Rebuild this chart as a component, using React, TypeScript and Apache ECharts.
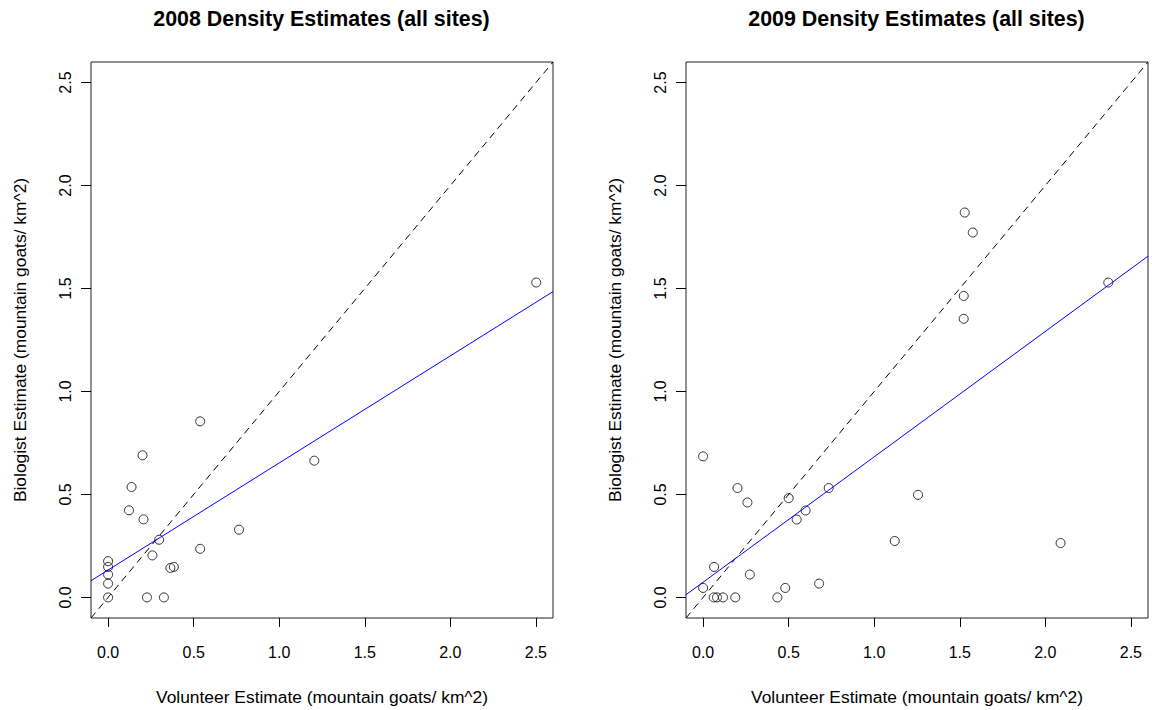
import React, { useEffect, useRef } from "react";
import * as echarts from "echarts";

// ---- data ----
const titles = ["2008 Density Estimates (all sites)", "2009 Density Estimates (all sites)"];
const xAxisName = "Volunteer Estimate (mountain goats/ km^2)";
const yAxisName = "Biologist Estimate (mountain goats/ km^2)";
const tickValues = [0, 0.5, 1.0, 1.5, 2.0, 2.5];

const x2008 = [0.538, 0.201, 0.137, 0.122, 0.207, 0.765, 0.298, 0.538, 0.259, 0.364, 0.384, 0, 0, 0, 0, 0, 0.227, 0.326, 1.205, 2.502];
const y2008 = [0.855, 0.69, 0.536, 0.423, 0.379, 0.329, 0.28, 0.236, 0.204, 0.143, 0.148, 0.176, 0.148, 0.111, 0.067, 0, 0, 0, 0.664, 1.529];

const x2009 = [0, 0.201, 0.259, 0.5, 0.599, 0.547, 0.734, 1.256, 1.12, 0.064, 0.273, 0, 0.062, 0.081, 0.116, 0.188, 0.434, 0.48, 0.678, 1.529, 1.576, 1.523, 1.523, 2.368, 2.089];
const y2009 = [0.685, 0.531, 0.461, 0.482, 0.422, 0.378, 0.531, 0.498, 0.274, 0.148, 0.111, 0.046, 0, 0, 0, 0, 0, 0.046, 0.067, 1.869, 1.772, 1.464, 1.353, 1.529, 0.264];

// fitted (blue) line end points, and the 1:1 (dashed) line end points
const fit2008 = [[-0.1, 0.081], [2.6, 1.485]];
const fit2009 = [[-0.1, 0.013], [2.6, 1.657]];
const identity = [[-0.1, -0.1], [2.6, 2.6]];

const AXIS_MIN = -0.1;
const AXIS_MAX = 2.6;

const FONT = "'Liberation Sans', Arial, Helvetica, sans-serif";

function zip(xs: number[], ys: number[]) {
  return xs.map((x, i) => [x, ys[i]]);
}

export default function App() {
  const ref = useRef<HTMLDivElement>(null);
  useEffect(() => {
    document.body.style.margin = "0";
    const chart = echarts.init(ref.current!, undefined, { renderer: "svg" });
    const grids = [
      { left: 91, top: 62, width: 462, height: 557 },
      { left: 686, top: 62, width: 462, height: 557 },
    ];
    const mkX = (i: number) => ({
      type: "value",
      gridIndex: i,
      min: AXIS_MIN,
      max: AXIS_MAX,
      name: xAxisName,
      nameLocation: "middle",
      nameGap: 70,
      nameTextStyle: { fontFamily: FONT, fontSize: 17.4, color: "#000" },
      axisLine: { show: false, onZero: false },
      splitLine: { show: false },
      axisTick: { show: true, inside: false, length: 9, customValues: tickValues, lineStyle: { color: "#000", width: 1 } },
      axisLabel: {
        show: true,
        customValues: tickValues,
        margin: 26,
        fontFamily: FONT,
        fontSize: 16,
        color: "#000",
        formatter: (v: number) => v.toFixed(1),
      },
    });
    const mkY = (i: number) => ({
      type: "value",
      gridIndex: i,
      min: AXIS_MIN,
      max: AXIS_MAX,
      name: yAxisName,
      nameLocation: "middle",
      nameGap: 63,
      nameTextStyle: { fontFamily: FONT, fontSize: 17.4, color: "#000" },
      axisLine: { show: false, onZero: false },
      splitLine: { show: false },
      axisTick: { show: true, inside: false, length: 10, customValues: tickValues, lineStyle: { color: "#000", width: 1 } },
      axisLabel: {
        show: true,
        customValues: tickValues,
        rotate: 90,
        margin: 18,
        fontFamily: FONT,
        fontSize: 16,
        color: "#000",
        formatter: (v: number) => v.toFixed(1),
      },
    });
    const pointSeries = (i: number, data: number[][]) => ({
      type: "scatter",
      xAxisIndex: i,
      yAxisIndex: i,
      symbol: "circle",
      symbolSize: 9,
      itemStyle: { color: "transparent", borderColor: "#000", borderWidth: 1 },
      data,
      z: 3,
    });
    const lineSeries = (i: number, data: number[][], color: string, dashed: boolean) => ({
      type: "line",
      xAxisIndex: i,
      yAxisIndex: i,
      data,
      showSymbol: false,
      symbol: "none",
      clip: true,
      lineStyle: { color, width: 1, type: dashed ? [7, 5] : "solid" },
      z: 4,
    });
    chart.setOption({
      animation: false,
      backgroundColor: "#fff",
      title: [
        {
          text: titles[0],
          left: 321.5,
          top: 8,
          textAlign: "center",
          padding: 0,
          textStyle: { fontFamily: FONT, fontSize: 21.4, fontWeight: "bold", color: "#000" },
        },
        {
          text: titles[1],
          left: 916.5,
          top: 8,
          textAlign: "center",
          padding: 0,
          textStyle: { fontFamily: FONT, fontSize: 21.4, fontWeight: "bold", color: "#000" },
        },
      ],
      grid: grids.map((g) => ({ ...g, show: true, borderColor: "#222", borderWidth: 1, backgroundColor: "transparent" })),
      xAxis: [mkX(0), mkX(1)],
      yAxis: [mkY(0), mkY(1)],
      series: [
        pointSeries(0, zip(x2008, y2008)),
        lineSeries(0, identity, "#000", true),
        lineSeries(0, fit2008, "#0000ff", false),
        pointSeries(1, zip(x2009, y2009)),
        lineSeries(1, identity, "#000", true),
        lineSeries(1, fit2009, "#0000ff", false),
      ],
    });
    return () => chart.dispose();
  }, []);
  return <div ref={ref} style={{ position: "absolute", left: 0, top: 0, width: 1152, height: 710 }} />;
}
